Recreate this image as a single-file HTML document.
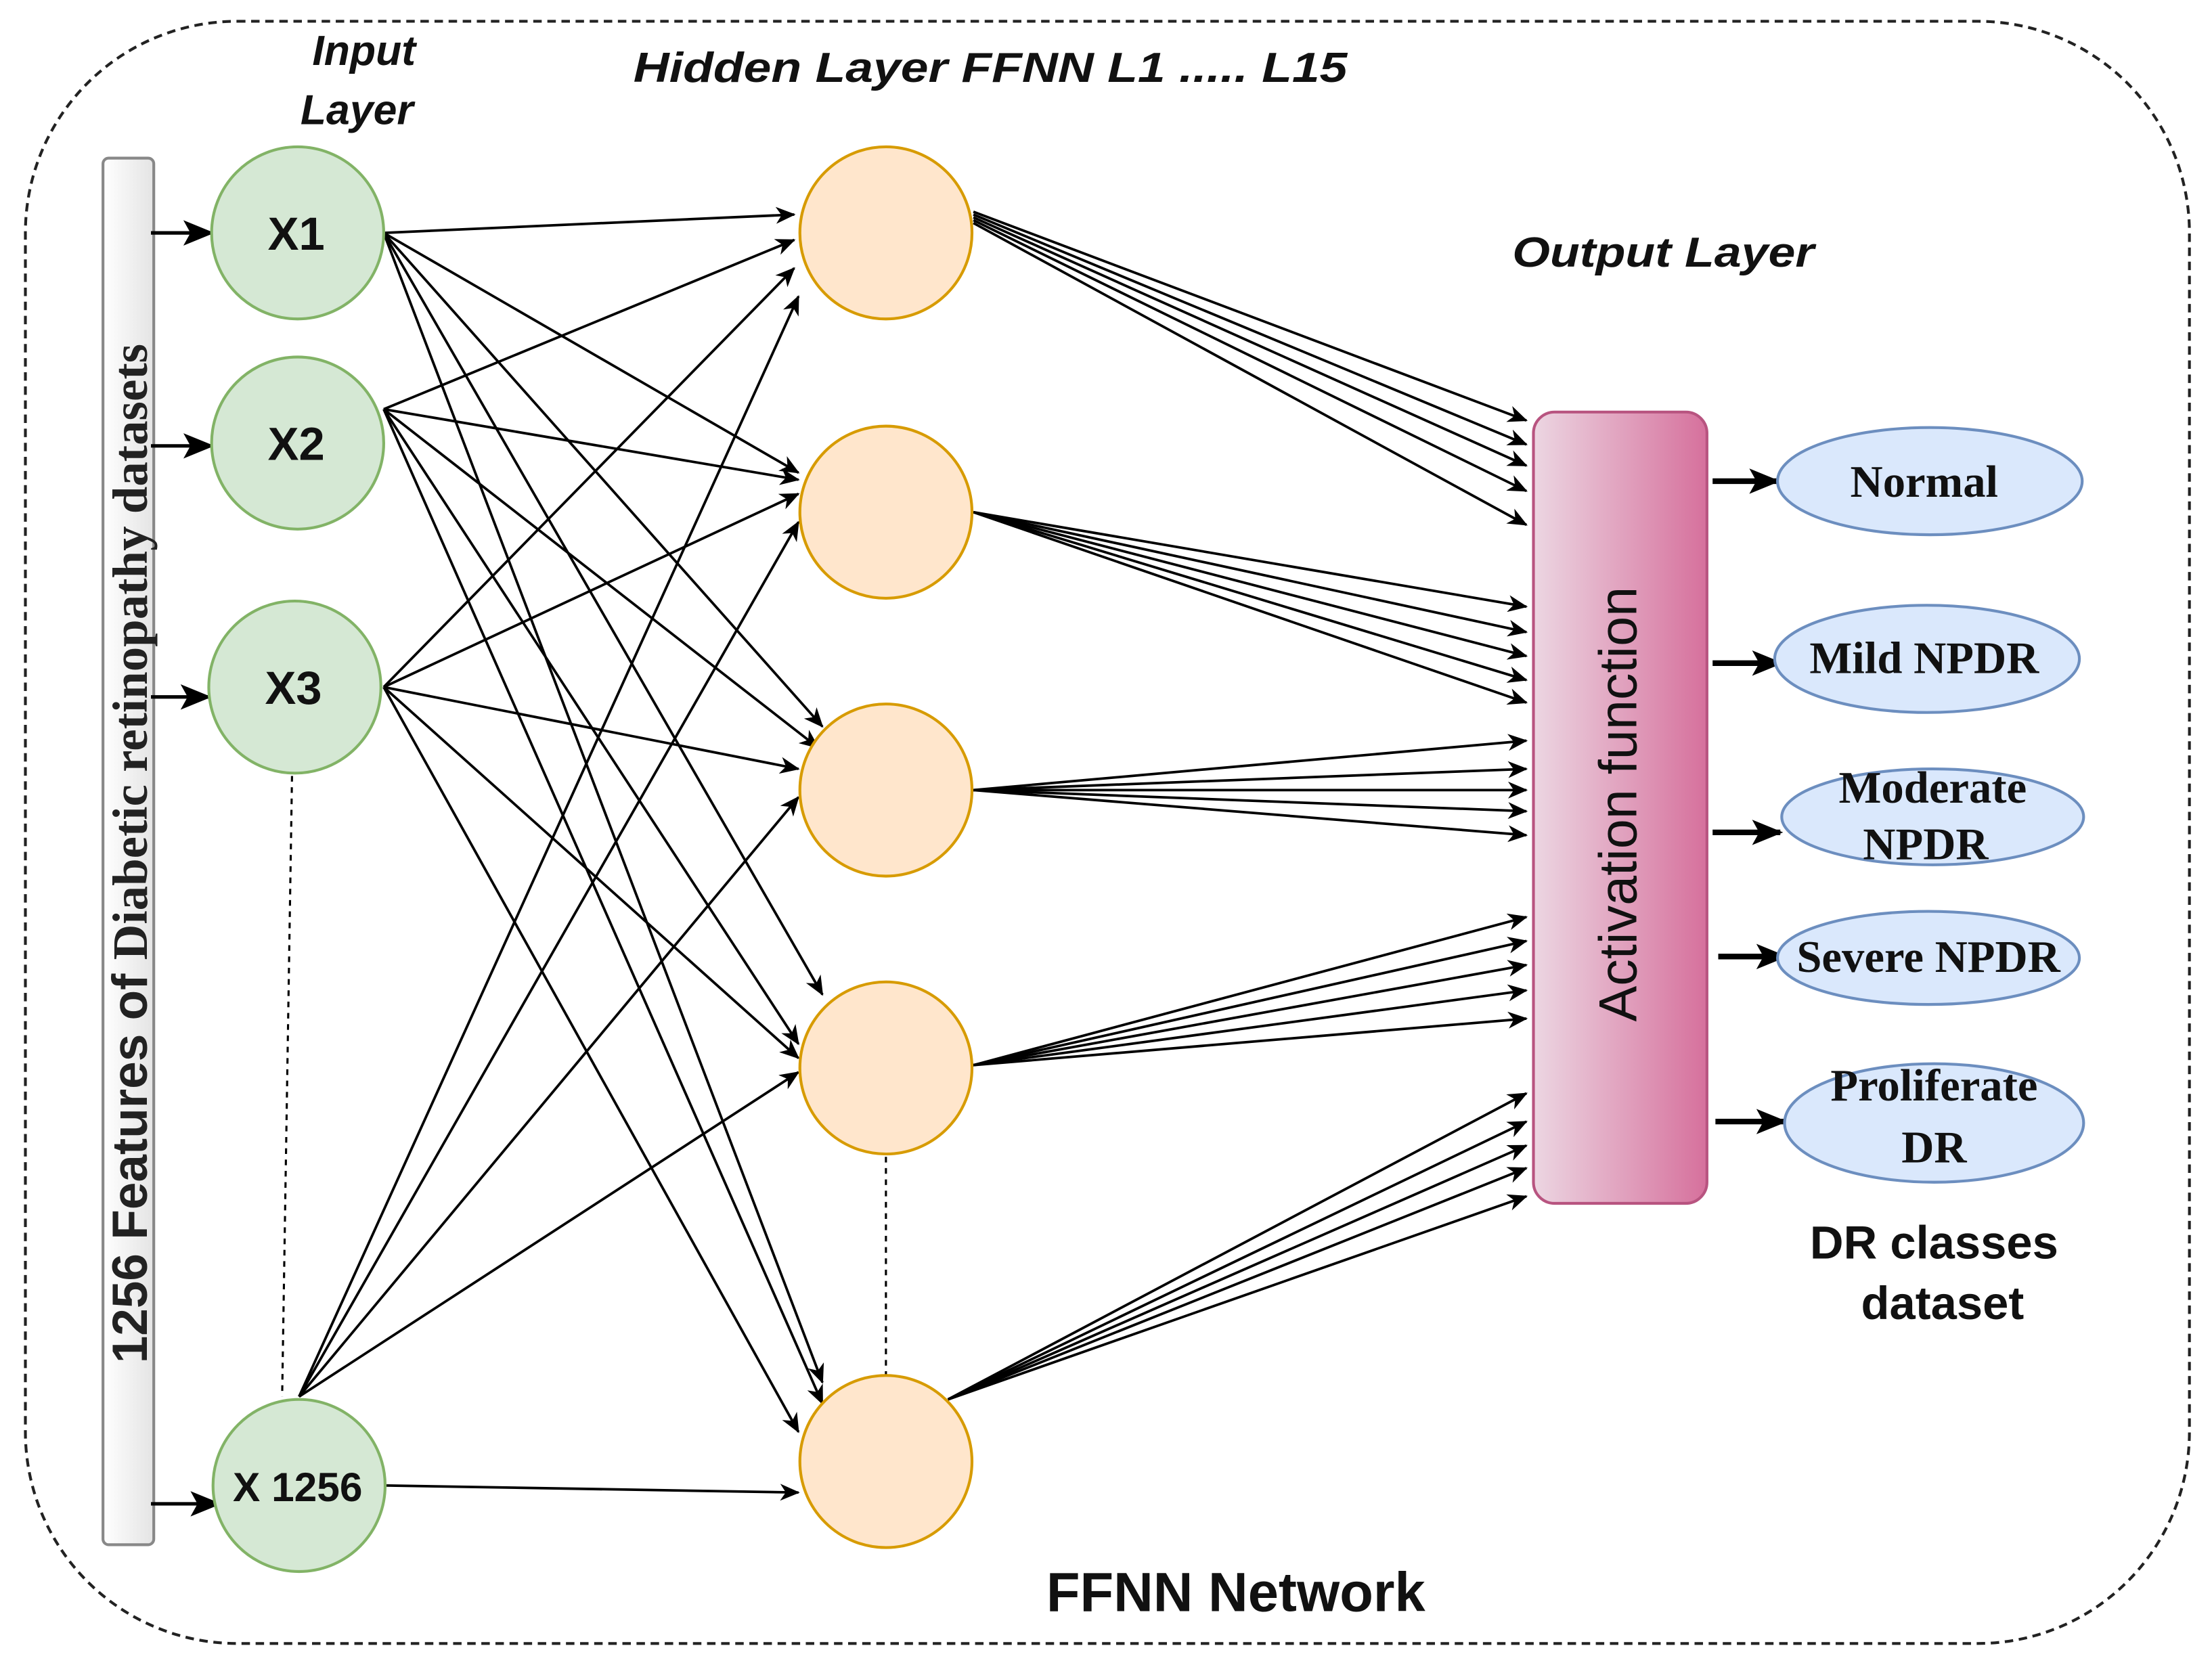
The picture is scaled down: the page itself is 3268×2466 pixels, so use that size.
<!DOCTYPE html>
<html><head><meta charset="utf-8"><style>
html,body{margin:0;padding:0;background:#fff;}
svg{display:block}
</style></head><body>
<svg width="3268" height="2466" viewBox="0 0 1568 1183" xmlns="http://www.w3.org/2000/svg">
<defs>
<marker id="a" markerWidth="14" markerHeight="12" refX="13" refY="6" orient="auto" markerUnits="userSpaceOnUse" viewBox="0 0 14 12">
<path d="M0,0 L14,6 L0,12 L4,6 z" fill="#000"/></marker>
<marker id="b" markerWidth="22" markerHeight="22" refX="20" refY="11" orient="auto" markerUnits="userSpaceOnUse" viewBox="0 0 22 22">
<path d="M0,2 L22,11 L0,20 L5,11 z" fill="#000"/></marker>
<linearGradient id="g" x1="0" x2="1" y1="0" y2="0"><stop offset="0" stop-color="#ecd6e2"/><stop offset="1" stop-color="#d6709c"/></linearGradient>
<linearGradient id="bar" x1="0" x2="1"><stop offset="0" stop-color="#ffffff"/><stop offset="1" stop-color="#e4e4e4"/></linearGradient>
</defs>
<rect x="18" y="15" width="1534" height="1150" rx="150" fill="none" stroke="#222" stroke-width="2" stroke-dasharray="6,4"/>
<rect x="73" y="112" width="36" height="983" rx="4" fill="url(#bar)" stroke="#888" stroke-width="2"/>
<text transform="translate(104,605) rotate(-90)" text-anchor="middle" font-size="35" fill="#222"><tspan font-family="Liberation Sans, sans-serif" font-weight="bold">1256 Features of </tspan><tspan font-family="Liberation Serif, serif" font-weight="bold">Diabetic retinopathy datasets</tspan></text>
<g stroke="#000" stroke-width="2.5" fill="none">
<line x1="107" y1="165" x2="150" y2="165" marker-end="url(#b)"/>
<line x1="107" y1="316" x2="150" y2="316" marker-end="url(#b)"/>
<line x1="107" y1="494" x2="148" y2="494" marker-end="url(#b)"/>
<line x1="107" y1="1066" x2="155" y2="1066" marker-end="url(#b)"/>
</g>
<line x1="207" y1="550" x2="200" y2="990" stroke="#000" stroke-width="1.5" stroke-dasharray="4,4"/>
<line x1="628" y1="820" x2="628" y2="975" stroke="#000" stroke-width="1.5" stroke-dasharray="4,4"/>
<g stroke="#000" stroke-width="1.8" fill="none" marker-end="url(#a)">
<line x1="272" y1="165" x2="563" y2="152"/><line x1="272" y1="165" x2="566" y2="335"/><line x1="272" y1="165" x2="583" y2="515"/><line x1="272" y1="165" x2="583" y2="705"/><line x1="272" y1="165" x2="583" y2="980"/>
<line x1="272" y1="290" x2="563" y2="170"/><line x1="272" y1="290" x2="566" y2="340"/><line x1="272" y1="290" x2="580" y2="530"/><line x1="272" y1="290" x2="566" y2="740"/><line x1="272" y1="290" x2="583" y2="995"/>
<line x1="272" y1="487" x2="563" y2="190"/><line x1="272" y1="487" x2="566" y2="350"/><line x1="272" y1="487" x2="566" y2="545"/><line x1="272" y1="487" x2="566" y2="750"/><line x1="272" y1="487" x2="566" y2="1015"/>
<line x1="212" y1="990" x2="566" y2="210"/><line x1="212" y1="990" x2="566" y2="370"/><line x1="212" y1="990" x2="566" y2="565"/><line x1="212" y1="990" x2="566" y2="760"/><line x1="274" y1="1053" x2="566" y2="1058"/>
<line x1="690" y1="150" x2="1082" y2="298"/><line x1="690" y1="152" x2="1082" y2="315"/><line x1="690" y1="154" x2="1082" y2="330"/><line x1="690" y1="156" x2="1082" y2="348"/><line x1="690" y1="158" x2="1082" y2="372"/>
<line x1="690" y1="363" x2="1082" y2="430"/><line x1="690" y1="363" x2="1082" y2="448"/><line x1="690" y1="363" x2="1082" y2="465"/><line x1="690" y1="363" x2="1082" y2="482"/><line x1="690" y1="363" x2="1082" y2="498"/>
<line x1="690" y1="560" x2="1082" y2="525"/><line x1="690" y1="560" x2="1082" y2="545"/><line x1="690" y1="560" x2="1082" y2="560"/><line x1="690" y1="560" x2="1082" y2="575"/><line x1="690" y1="560" x2="1082" y2="592"/>
<line x1="690" y1="755" x2="1082" y2="650"/><line x1="690" y1="755" x2="1082" y2="667"/><line x1="690" y1="755" x2="1082" y2="684"/><line x1="690" y1="755" x2="1082" y2="702"/><line x1="690" y1="755" x2="1082" y2="722"/>
<line x1="672" y1="992" x2="1082" y2="775"/><line x1="672" y1="992" x2="1082" y2="795"/><line x1="672" y1="992" x2="1082" y2="812"/><line x1="672" y1="992" x2="1082" y2="828"/><line x1="672" y1="992" x2="1082" y2="848"/>
</g>
<g fill="#d5e8d4" stroke="#82b366" stroke-width="2">
<circle cx="211" cy="165" r="61"/><circle cx="211" cy="314" r="61"/><circle cx="209" cy="487" r="61"/><circle cx="212" cy="1053" r="61"/>
</g>
<g fill="#ffe6cc" stroke="#d79b00" stroke-width="2">
<circle cx="628" cy="165" r="61"/><circle cx="628" cy="363" r="61"/><circle cx="628" cy="560" r="61"/><circle cx="628" cy="757" r="61"/><circle cx="628" cy="1036" r="61"/>
</g>
<g font-family="Liberation Sans, sans-serif" font-weight="bold" font-size="33" text-anchor="middle" fill="#111">
<text x="210" y="177">X1</text><text x="210" y="326">X2</text><text x="208" y="499">X3</text><text x="211" y="1064" font-size="29">X 1256</text>
</g>
<rect x="1087" y="292" width="123" height="561" rx="15" fill="url(#g)" stroke="#b85480" stroke-width="2"/>
<text transform="translate(1160,570) rotate(-90)" text-anchor="middle" font-family="Liberation Sans, sans-serif" font-size="38" fill="#111">Activation function</text>
<g stroke="#000" stroke-width="4" marker-end="url(#b)">
<line x1="1214" y1="341" x2="1260" y2="341"/><line x1="1214" y1="470" x2="1262" y2="470"/><line x1="1214" y1="590" x2="1262" y2="590"/><line x1="1218" y1="678" x2="1265" y2="678"/><line x1="1216" y1="795" x2="1265" y2="795"/>
</g>
<g fill="#dae8fc" stroke="#6c8ebf" stroke-width="2">
<ellipse cx="1368" cy="341" rx="108" ry="38"/><ellipse cx="1366" cy="467" rx="108" ry="38"/><ellipse cx="1370" cy="579" rx="107" ry="34"/><ellipse cx="1367" cy="679" rx="107" ry="33"/><ellipse cx="1371" cy="796" rx="106" ry="42"/>
</g>
<g font-family="Liberation Serif, serif" font-weight="bold" font-size="32" text-anchor="middle" fill="#111">
<text x="1364" y="352">Normal</text><text x="1364" y="477">Mild NPDR</text>
<text x="1370" y="569">Moderate</text><text x="1365" y="609">NPDR</text>
<text x="1367" y="689">Severe NPDR</text>
<text x="1371" y="780">Proliferate</text><text x="1371" y="824">DR</text>
</g>
<g font-family="Liberation Sans, sans-serif" font-weight="bold" font-style="italic" font-size="30" fill="#111">
<text x="258" y="46" text-anchor="middle">Input</text><text x="253" y="88" text-anchor="middle">Layer</text>
<text x="449" y="58" textLength="506" lengthAdjust="spacingAndGlyphs">Hidden Layer  FFNN L1 ..... L15</text>
<text x="1072" y="189" textLength="214" lengthAdjust="spacingAndGlyphs">Output Layer</text>
</g>
<g font-family="Liberation Sans, sans-serif" font-weight="bold" font-size="33" fill="#111" text-anchor="middle">
<text x="1371" y="892">DR classes</text><text x="1377" y="935">dataset</text>
<text x="876" y="1142" font-size="39">FFNN Network</text>
</g>
</svg>
</body></html>
